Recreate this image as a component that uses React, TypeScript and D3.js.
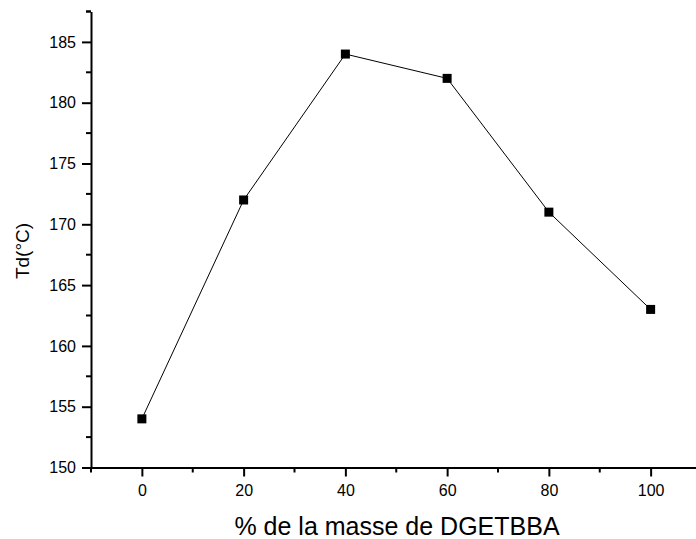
import React, { useEffect, useRef } from "react";
import * as d3 from "d3";

// % de la masse de DGETBBA
const masse = [0, 20, 40, 60, 80, 100];
// Td (°C)
const td = [154, 172, 184, 182, 171, 163];

const xTicks = [0, 20, 40, 60, 80, 100];
const yTicks = [150, 155, 160, 165, 170, 175, 180, 185];

const App = () => {
    const width = 696;
    const height = 539;
    const ref = useRef<SVGGElement | null>(null);

    const x = d3.scaleLinear().domain([-10, 110]).range([91, 701.5]);
    const y = d3.scaleLinear().domain([150, 187.5]).range([467.5, 11.5]);

    useEffect(() => {
        const g = d3.select(ref.current);
        g.selectAll("*").remove();
        const font = "Arial, 'Liberation Sans', sans-serif";

        // x axis
        const xAxis = g.append("g").attr("transform", `translate(0,${y(150)})`);
        xAxis.call(
            d3.axisBottom(x)
                .tickValues(xTicks)
                .tickSize(9)
                .tickPadding(8)
                .tickSizeOuter(0)
        );
        xAxis.select(".domain").attr("stroke-width", 2);
        xAxis.selectAll(".tick line").attr("stroke-width", 2);
        xAxis.selectAll(".tick text")
            .attr("font-family", font)
            .attr("font-size", 16)
            .attr("fill", "#000");
        // minor x ticks
        xAxis.selectAll(".minor")
            .data(d3.range(-10, 111, 20))
            .enter()
            .append("line")
            .attr("x1", d => x(d))
            .attr("x2", d => x(d))
            .attr("y1", 0)
            .attr("y2", 5)
            .attr("stroke", "#000")
            .attr("stroke-width", 2);

        // y axis
        const yAxis = g.append("g").attr("transform", `translate(${x(-10)},0)`);
        yAxis.call(
            d3.axisLeft(y)
                .tickValues(yTicks)
                .tickSize(9)
                .tickPadding(6)
                .tickSizeOuter(0)
        );
        yAxis.select(".domain").attr("stroke-width", 2);
        yAxis.selectAll(".tick line").attr("stroke-width", 2);
        yAxis.selectAll(".tick text")
            .attr("font-family", font)
            .attr("font-size", 16)
            .attr("fill", "#000");
        yAxis.selectAll(".minor")
            .data(d3.range(152.5, 188, 5))
            .enter()
            .append("line")
            .attr("x1", 0)
            .attr("x2", -5)
            .attr("y1", d => y(d))
            .attr("y2", d => y(d))
            .attr("stroke", "#000")
            .attr("stroke-width", 2);
        // top cap of y axis
        yAxis.append("line")
            .attr("x1", 0).attr("x2", -5)
            .attr("y1", y(187.5)).attr("y2", y(187.5))
            .attr("stroke", "#000").attr("stroke-width", 2);

        // line
        const line = d3.line<number>()
            .x((d, i) => x(masse[i]))
            .y(d => y(d));
        g.append("path")
            .datum(td)
            .attr("d", line)
            .attr("fill", "none")
            .attr("stroke", "#000")
            .attr("stroke-width", 1);

        // square markers
        g.selectAll(".pt")
            .data(td)
            .enter()
            .append("rect")
            .attr("x", (d, i) => x(masse[i]) - 4.5)
            .attr("y", d => y(d) - 4.5)
            .attr("width", 9)
            .attr("height", 9)
            .attr("fill", "#000");

        // axis titles
        g.append("text")
            .attr("x", 397)
            .attr("y", 535)
            .attr("text-anchor", "middle")
            .attr("font-family", font)
            .attr("font-size", 25)
            .text("% de la masse de DGETBBA");

        g.append("text")
            .attr("transform", `translate(29,251) rotate(-90)`)
            .attr("text-anchor", "middle")
            .attr("font-family", font)
            .attr("font-size", 19)
            .text("Td(°C)");
    }, []);

    return (
        <svg
            width={width}
            height={height}
            style={{ position: "absolute", left: 0, top: 0, background: "#fff" }}
        >
            <g ref={ref} />
        </svg>
    );
};

export default App;
